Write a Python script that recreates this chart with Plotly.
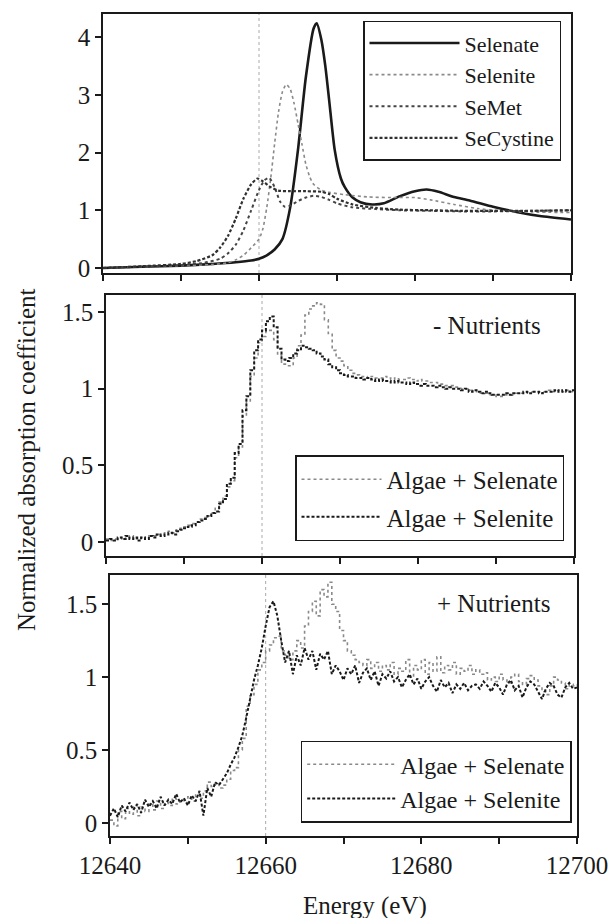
import numpy as np
import plotly.graph_objects as go

# ---------------- Panel 1: reference compounds ----------------
selenate_x = [12640, 12645, 12650, 12654, 12657, 12659, 12660, 12661, 12662, 12663, 12664, 12665,
              12666, 12667, 12667.4, 12668, 12668.5, 12669, 12669.7, 12670.5, 12671, 12672, 12673,
              12674.5, 12676, 12678, 12680, 12681.5, 12683, 12685, 12687, 12690, 12693, 12696, 12700]
selenate_y = [0.0, 0.02, 0.04, 0.07, 0.10, 0.13, 0.16, 0.22, 0.32, 0.50, 1.05, 2.05,
              3.30, 4.15, 4.24, 3.95, 3.50, 2.90, 2.05, 1.55, 1.40, 1.22, 1.14,
              1.10, 1.12, 1.24, 1.33, 1.36, 1.32, 1.23, 1.17, 1.06, 0.97, 0.90, 0.84]

selenite_x = [12640, 12645, 12650, 12654, 12656, 12657, 12658, 12659, 12660, 12660.5, 12661, 12661.5,
              12662, 12662.5, 12663, 12663.5, 12664, 12664.5, 12665, 12665.5, 12666, 12666.5, 12667,
              12668, 12669, 12671, 12674, 12677, 12680, 12682, 12685, 12688, 12691, 12695, 12700]
selenite_y = [0.0, 0.02, 0.04, 0.06, 0.09, 0.14, 0.22, 0.35, 0.50, 0.68, 1.05, 1.55,
              2.15, 2.70, 3.05, 3.18, 3.10, 2.85, 2.50, 2.15, 1.80, 1.58, 1.45,
              1.35, 1.31, 1.27, 1.23, 1.22, 1.22, 1.18, 1.10, 1.03, 0.99, 0.97, 0.96]

semet_x = [12640, 12645, 12650, 12653, 12655, 12656, 12657, 12658, 12659, 12660, 12660.7, 12661.3,
           12662, 12662.7, 12663.3, 12664, 12665, 12666, 12667, 12668, 12669, 12670, 12672, 12675,
           12678, 12682, 12686, 12690, 12695, 12700]
semet_y = [0.0, 0.02, 0.05, 0.09, 0.16, 0.25, 0.40, 0.65, 1.00, 1.35, 1.52, 1.56,
           1.40, 1.15, 1.06, 1.08, 1.16, 1.22, 1.25, 1.23, 1.18, 1.12, 1.05, 1.02,
           1.00, 0.99, 0.98, 0.98, 0.99, 1.00]

secystine_x = [12640, 12645, 12650, 12652, 12654, 12655, 12656, 12657, 12658, 12659, 12659.8, 12660.5,
               12661.5, 12662.5, 12664, 12666, 12668, 12669, 12670, 12672, 12675, 12678, 12682, 12686,
               12690, 12695, 12700]
secystine_y = [0.0, 0.03, 0.07, 0.12, 0.22, 0.35, 0.55, 0.85, 1.20, 1.45, 1.55, 1.50,
               1.40, 1.34, 1.33, 1.33, 1.32, 1.28, 1.20, 1.10, 1.04, 1.01, 1.00, 0.99,
               0.99, 0.99, 1.00]

# ---------------- Panels 2 & 3: algae spectra, 0.5 eV grid from 12640 eV ----------------
E_START = 12640
E_STEP = 0.5

minus_selenate = [
    0.02, 0.01, 0.02, 0.02, 0.03, 0.02, 0.04, 0.02, 0.03, 0.02,
    0.03, 0.04, 0.04, 0.05, 0.05, 0.06, 0.07, 0.06, 0.08, 0.09,
    0.10, 0.11, 0.12, 0.13, 0.15, 0.16, 0.17, 0.19, 0.22, 0.26,
    0.30, 0.36, 0.40, 0.55, 0.62, 0.82, 0.92, 1.08, 1.20, 1.30,
    1.34, 1.38, 1.38, 1.32, 1.22, 1.16, 1.15, 1.15, 1.20, 1.28,
    1.35, 1.48, 1.52, 1.54, 1.56, 1.55, 1.45, 1.36, 1.25, 1.20,
    1.18, 1.15, 1.12, 1.10, 1.09, 1.08, 1.08, 1.07, 1.08, 1.07,
    1.07, 1.08, 1.07, 1.06, 1.07, 1.06, 1.06, 1.07, 1.06, 1.05,
    1.06, 1.05, 1.05, 1.04, 1.04, 1.03, 1.03, 1.02, 1.02, 1.01,
    1.01, 1.00, 1.00, 0.99, 0.99, 0.98, 0.97, 0.97, 0.96, 0.96,
    0.95, 0.95, 0.96, 0.96, 0.96, 0.97, 0.97, 0.97, 0.98, 0.98,
    0.98, 0.98, 0.98, 0.99, 0.98, 0.99, 0.99, 0.98, 0.99, 0.98,
    0.98]
minus_selenite = [
    0.01, 0.02, 0.01, 0.03, 0.02, 0.04, 0.02, 0.03, 0.01, 0.03,
    0.02, 0.04, 0.03, 0.05, 0.04, 0.05, 0.06, 0.05, 0.07, 0.08,
    0.09, 0.10, 0.11, 0.13, 0.14, 0.15, 0.17, 0.19, 0.20, 0.25,
    0.28, 0.38, 0.42, 0.58, 0.64, 0.86, 0.95, 1.12, 1.25, 1.32,
    1.38, 1.44, 1.47, 1.40, 1.26, 1.19, 1.18, 1.20, 1.23, 1.25,
    1.28, 1.27, 1.26, 1.25, 1.23, 1.21, 1.19, 1.16, 1.14, 1.12,
    1.10, 1.09, 1.08, 1.08, 1.07, 1.07, 1.06, 1.07, 1.06, 1.05,
    1.06, 1.05, 1.05, 1.04, 1.05, 1.04, 1.04, 1.03, 1.04, 1.03,
    1.02, 1.03, 1.02, 1.02, 1.01, 1.02, 1.01, 1.00, 1.01, 1.00,
    1.00, 0.99, 1.00, 0.98, 0.99, 0.98, 0.97, 0.98, 0.97, 0.96,
    0.96, 0.96, 0.97, 0.96, 0.97, 0.97, 0.97, 0.98, 0.97, 0.98,
    0.98, 0.97, 0.98, 0.98, 0.98, 0.99, 0.98, 0.99, 0.98, 0.99,
    0.99]

plus_selenate = [
    0.02, -0.02, 0.08, 0.03, 0.10, 0.06, 0.12, 0.05, 0.11, 0.08,
    0.13, 0.09, 0.15, 0.10, 0.14, 0.12, 0.17, 0.13, 0.16, 0.14,
    0.18, 0.15, 0.20, 0.17, 0.22, 0.28, 0.25, 0.27, 0.24, 0.26,
    0.30, 0.36, 0.38, 0.50, 0.58, 0.80, 0.88, 0.95, 1.05, 1.10,
    1.18, 1.22, 1.27, 1.28, 1.18, 1.15, 1.12, 1.18, 1.25, 1.20,
    1.35, 1.45, 1.52, 1.42, 1.60, 1.55, 1.65, 1.50, 1.45, 1.32,
    1.25, 1.18, 1.15, 1.12, 1.10, 1.08, 1.12, 1.06, 1.10, 1.04,
    1.08, 1.05, 1.10, 1.02, 1.06, 1.04, 1.12, 1.00, 1.08, 1.05,
    1.12, 1.02, 1.10, 1.04, 1.14, 1.03, 1.08, 1.05, 1.10, 1.02,
    1.06, 1.04, 1.08, 1.02, 1.05, 1.02, 1.03, 0.98, 1.00, 0.97,
    1.02, 0.98, 0.96, 1.00, 1.02, 0.97, 0.95, 0.99, 1.01, 0.98,
    0.94, 0.90, 0.88, 0.94, 1.00, 0.98, 0.96, 0.92, 0.95, 0.94,
    0.95]
plus_selenite = [
    0.05, 0.10, 0.04, 0.12, 0.08, 0.14, 0.09, 0.13, 0.07, 0.16,
    0.11, 0.15, 0.10, 0.18, 0.12, 0.16, 0.13, 0.20, 0.14, 0.17,
    0.12, 0.19, 0.15, 0.22, 0.05, 0.24, 0.18, 0.28, 0.26, 0.30,
    0.34, 0.40, 0.45, 0.52, 0.60, 0.72, 0.85, 0.98, 1.08, 1.20,
    1.35, 1.48, 1.52, 1.42, 1.25, 1.10, 1.18, 1.02, 1.15, 1.08,
    1.20, 1.12, 1.18, 1.05, 1.16, 1.12, 1.18, 1.02, 1.08, 1.04,
    0.98, 1.06, 1.02, 1.08, 0.96, 1.03, 1.06, 0.98, 1.04, 0.94,
    1.02, 0.99, 1.04, 0.97, 1.00, 0.93, 0.98, 1.02, 0.95, 0.99,
    0.92, 0.97, 1.00, 0.94, 0.90, 0.98, 0.93, 0.96, 0.89, 0.95,
    0.92, 0.96, 0.91, 0.94, 0.95, 0.92, 0.97, 0.94, 0.90, 0.96,
    0.93, 0.88, 0.95, 0.98, 0.91, 0.94, 0.86, 0.93, 0.97, 0.95,
    0.90, 0.85, 0.92, 0.96, 0.94, 0.88, 0.86, 0.93, 0.96, 0.92,
    0.93]

x_ticks = [12640, 12650, 12660, 12670, 12680, 12690, 12700]
x_ticklabels = ["12640", "", "12660", "", "12680", "", "12700"]
edge_energy = 12660


def grid(vals):
    return E_START + E_STEP * np.arange(len(vals))


FONT = "Liberation Serif"
BLACK = "#1a1a1a"
GRAY = "#8a8a8a"

fig = go.Figure()

# panel 1
fig.add_trace(go.Scatter(x=selenate_x, y=selenate_y, name="Selenate", mode="lines",
                         line=dict(color=BLACK, width=2.6, shape="spline", smoothing=0.6),
                         xaxis="x", yaxis="y", legend="legend", legendgroup="a"))
fig.add_trace(go.Scatter(x=selenite_x, y=selenite_y, name="Selenite", mode="lines",
                         line=dict(color=GRAY, width=1.6, dash="dot", shape="spline", smoothing=0.6),
                         xaxis="x", yaxis="y", legend="legend", legendgroup="b"))
fig.add_trace(go.Scatter(x=semet_x, y=semet_y, name="SeMet", mode="lines",
                         line=dict(color="#444444", width=2.0, dash="dot", shape="spline", smoothing=0.6),
                         xaxis="x", yaxis="y", legend="legend", legendgroup="c"))
fig.add_trace(go.Scatter(x=secystine_x, y=secystine_y, name="SeCystine", mode="lines",
                         line=dict(color="#303030", width=2.2, dash="3px,2px", shape="spline", smoothing=0.6),
                         xaxis="x", yaxis="y", legend="legend", legendgroup="d"))

# panel 2
fig.add_trace(go.Scatter(x=grid(minus_selenate), y=minus_selenate, name="Algae + Selenate", mode="lines",
                         line=dict(color=GRAY, width=1.6, dash="dot", shape="hv"),
                         xaxis="x2", yaxis="y2", legend="legend2", legendgroup="e"))
fig.add_trace(go.Scatter(x=grid(minus_selenite), y=minus_selenite, name="Algae + Selenite", mode="lines",
                         line=dict(color=BLACK, width=2.0, dash="3px,2px", shape="hv"),
                         xaxis="x2", yaxis="y2", legend="legend2", legendgroup="f"))

# panel 3
fig.add_trace(go.Scatter(x=grid(plus_selenate), y=plus_selenate, name="Algae + Selenate", mode="lines",
                         line=dict(color=GRAY, width=1.6, dash="dot", shape="hv"),
                         xaxis="x3", yaxis="y3", legend="legend3", legendgroup="g"))
fig.add_trace(go.Scatter(x=grid(plus_selenite), y=plus_selenite, name="Algae + Selenite", mode="lines",
                         line=dict(color=BLACK, width=2.0, dash="3px,2px", shape="linear"),
                         xaxis="x3", yaxis="y3", legend="legend3", legendgroup="h"))

TICK = 25
axis_common = dict(showline=True, mirror=True, linecolor=BLACK, linewidth=1.5,
                   ticks="outside", ticklen=6, tickwidth=1.5, tickcolor=BLACK,
                   showgrid=False, zeroline=False, automargin=False,
                   tickfont=dict(family=FONT, size=TICK, color=BLACK))

# page coordinates (body margin removed by post_script)
W, HT = 613, 918
PL, PR, PT, PB = 103, 577, 14, 836
PW, PH = PR - PL, PB - PT


def xdom(l, r):
    return [(l - PL) / PW, (r - PL) / PW]


def ydom(t, b):
    return [(PB - b) / PH, (PB - t) / PH]


def px(x):
    return (x - PL) / PW


def py(y):
    return (PB - y) / PH


fig.update_layout(
    template="none",
    width=W, height=HT,
    margin=dict(l=PL, r=W - PR, t=PT, b=HT - PB),
    paper_bgcolor="white", plot_bgcolor="white",
    font=dict(family=FONT, color=BLACK),
    xaxis=dict(axis_common, range=[12640, 12700], tickvals=x_ticks, ticktext=[""] * 7,
               anchor="y", domain=xdom(103, 571)),
    xaxis2=dict(axis_common, range=[12640, 12700], tickvals=x_ticks, ticktext=[""] * 7,
                anchor="y2", domain=xdom(106, 574)),
    xaxis3=dict(axis_common, range=[12640, 12700], tickvals=x_ticks, ticktext=x_ticklabels,
                anchor="y3", domain=xdom(110, 577)),
    yaxis=dict(axis_common, range=[-0.087, 4.40], tickvals=[0, 1, 2, 3, 4], anchor="x",
               domain=ydom(14, 273)),
    yaxis2=dict(axis_common, range=[-0.091, 1.611], tickvals=[0, 0.5, 1, 1.5], anchor="x2",
                domain=ydom(295, 556)),
    yaxis3=dict(axis_common, range=[-0.089, 1.70], tickvals=[0, 0.5, 1, 1.5], anchor="x3",
                domain=ydom(575, 836)),
    legend=dict(x=px(561), y=py(20.7), xanchor="right", yanchor="top",
                bordercolor=BLACK, borderwidth=1.5, bgcolor="white",
                font=dict(family=FONT, size=22, color=BLACK),
                traceorder="grouped", tracegroupgap=0, itemwidth=90),
    legend2=dict(x=px(564), y=py(541), xanchor="right", yanchor="bottom",
                 bordercolor=BLACK, borderwidth=1.5, bgcolor="white",
                 font=dict(family=FONT, size=25, color=BLACK),
                 traceorder="grouped", tracegroupgap=2, itemwidth=80),
    legend3=dict(x=px(571.7), y=py(822.7), xanchor="right", yanchor="bottom",
                 bordercolor=BLACK, borderwidth=1.5, bgcolor="white",
                 font=dict(family=FONT, size=24, color=BLACK),
                 traceorder="grouped", tracegroupgap=0, itemwidth=88),
    showlegend=True,
)

for xr in ["x", "x2", "x3"]:
    yr = "y" if xr == "x" else "y" + xr[1:]
    fig.add_shape(type="line", xref=xr, yref=yr + " domain", x0=edge_energy, x1=edge_energy,
                  y0=0, y1=1, line=dict(color="#aaaaaa", width=1, dash="dot"), layer="below")

fig.add_annotation(text="- Nutrients", xref="paper", yref="paper", x=px(487), y=py(325),
                   xanchor="center", yanchor="middle",
                   showarrow=False, font=dict(family=FONT, size=25, color=BLACK))
fig.add_annotation(text="+ Nutrients", xref="paper", yref="paper", x=px(493), y=py(603),
                   xanchor="center", yanchor="middle",
                   showarrow=False, font=dict(family=FONT, size=25, color=BLACK))
fig.add_annotation(text="Normalized absorption coefficient", xref="paper", yref="paper",
                   x=px(26), y=py(460), textangle=-90, showarrow=False,
                   xanchor="center", yanchor="middle",
                   font=dict(family=FONT, size=25, color=BLACK))
fig.add_annotation(text="Energy (eV)", xref="paper", yref="paper",
                   x=px(365), y=py(906), showarrow=False,
                   xanchor="center", yanchor="middle",
                   font=dict(family=FONT, size=25, color=BLACK))

fig.write_html("out.html",
               config={"displayModeBar": False},
               post_script="document.body.style.margin='0';document.body.style.overflow='hidden';")
